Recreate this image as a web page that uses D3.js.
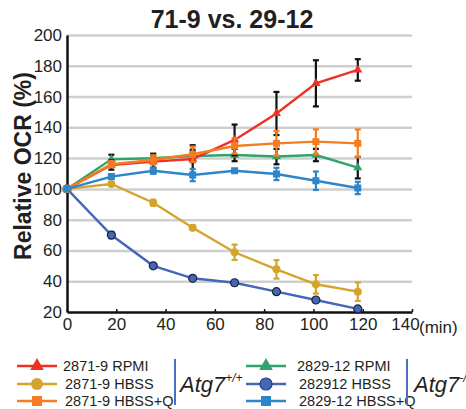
<!DOCTYPE html>
<html>
  <head>
    <meta charset="utf-8">
    <title>71-9 vs. 29-12</title>
    <script src="https://cdn.jsdelivr.net/npm/d3@7"></script>
    <style>
      body { margin: 0; background: #fff; }
      svg { font-family: Arial, "Liberation Sans", sans-serif; }
      text { fill: #231f20; }
    </style>
  </head>
  <body>
    <svg id="chart" width="466" height="409"></svg>

    <script>
      // data
      times = [0, 18, 35, 51, 68, 85, 101, 118];
      xTicks = [0, 20, 40, 60, 80, 100, 120, 140];
      yTicks = [20, 40, 60, 80, 100, 120, 140, 160, 180, 200];

      rpmi71 = [100, 115.5, 117.7, 119.4, 131.8, 149, 168.6, 177.3];
      rpmi71Err = [0, 3, 4, 9, 10, 14, 15, 7];
      hbss71 = [100, 103.2, 91, 74.8, 58.8, 47.7, 38, 33.2];
      hbss71Err = [0, 1, 2, 1.5, 5, 6, 6, 6];
      hbssQ71 = [100, 116, 118.8, 122.5, 127.9, 129.6, 130.7, 129.6];
      hbssQ71Err = [0, 2, 3, 5, 5, 8, 8, 9];
      rpmi29 = [100, 119.2, 119.9, 121.4, 122, 121, 122, 113.8];
      rpmi29Err = [0, 3, 3, 4, 4, 5, 4, 7];
      hbss29 = [100, 70, 50, 41.9, 39, 33.2, 27.8, 22];
      hbss29Err = [0, 2, 1, 1, 1, 1, 1, 1];
      hbssQ29 = [100, 108, 111.8, 109, 111.8, 109.7, 105.3, 100.6];
      hbssQ29Err = [0, 1.5, 2, 4, 1, 4, 6, 4];

      // draw order, bottom first
      series = [
        { name: "282912 HBSS", values: hbss29, err: hbss29Err, color: "#4467b7", errColor: "#111", shape: "circle" },
        { name: "2871-9 HBSS", values: hbss71, err: hbss71Err, color: "#d4a42c", errColor: "#d4a42c", shape: "circle" },
        { name: "2829-12 RPMI", values: rpmi29, err: rpmi29Err, color: "#2fa36b", errColor: "#111", shape: "triangle" },
        { name: "2871-9 RPMI", values: rpmi71, err: rpmi71Err, color: "#ef3124", errColor: "#111", shape: "triangle" },
        { name: "2871-9 HBSS+Q", values: hbssQ71, err: hbssQ71Err, color: "#f47d22", errColor: "#f47d22", shape: "square" },
        { name: "2829-12 HBSS+Q", values: hbssQ29, err: hbssQ29Err, color: "#2e86c9", errColor: "#2e86c9", shape: "square" }
      ];

      svg = d3.select("#chart");

      x = d3.scaleLinear().domain([0, 140]).range([67, 412]);
      y = d3.scaleLinear().domain([20, 200]).range([312, 35]);

      // gridlines
      svg.append("g")
        .attr("transform", "translate(67,0)")
        .call(d3.axisLeft(y).tickValues(yTicks.slice(1)).tickSize(-345).tickFormat(""))
        .call(function(g) {
          g.select(".domain").remove();
          g.selectAll("line").attr("stroke", "#cfcfcf").attr("stroke-width", 2.5);
        });

      // y axis
      svg.append("g")
        .attr("transform", "translate(67,0)")
        .call(d3.axisLeft(y).tickValues(yTicks).tickSize(0).tickPadding(5))
        .call(function(g) {
          g.select(".domain").attr("stroke", "#111").attr("stroke-width", 2.5);
          g.selectAll("text").attr("font-size", 17).attr("font-family", "Arial, 'Liberation Sans', sans-serif").attr("fill", "#231f20");
        });

      // x axis
      svg.append("g")
        .attr("transform", "translate(0,312)")
        .call(d3.axisBottom(x).tickValues(xTicks).tickSizeInner(-3).tickSizeOuter(0).tickPadding(6))
        .call(function(g) {
          g.select(".domain").attr("stroke", "#111").attr("stroke-width", 2.5);
          g.selectAll("line").attr("stroke", "#111").attr("stroke-width", 1.5);
          g.selectAll("text").attr("font-size", 17).attr("font-family", "Arial, 'Liberation Sans', sans-serif").attr("fill", "#231f20");
          g.selectAll(".tick").filter(function(d) { return d == 140; })
            .select("text").attr("dx", -7);
        });

      svg.append("text")
        .attr("x", x(140) + 7)
        .attr("y", 333)
        .attr("font-size", 17)
        .text("(min)");

      // title and y label
      svg.append("text")
        .attr("x", 232)
        .attr("y", 28)
        .attr("text-anchor", "middle")
        .attr("font-size", 25)
        .attr("font-weight", "bold")
        .text("71-9 vs. 29-12");

      svg.append("text")
        .attr("transform", "translate(31,166) rotate(-90)")
        .attr("text-anchor", "middle")
        .attr("font-size", 23)
        .attr("font-weight", "bold")
        .text("Relative OCR (%)");

      line = d3.line()
        .x(function(d, i) { return x(times[i]); })
        .y(function(d) { return y(d); });

      function marker(sel, shape, color, size, stroke) {
        if (shape == "circle") {
          sel.append("circle").attr("r", size / 2).attr("fill", color)
            .attr("stroke", stroke || "none").attr("stroke-width", 1.2);
        } else {
          sel.append("path")
            .attr("d", d3.symbol(shape == "square" ? d3.symbolSquare : d3.symbolTriangle, size * size)())
            .attr("fill", color);
        }
      }

      plot = svg.append("g");
      series.forEach(function(s) {
        g = plot.append("g");
        // error bars
        s.values.forEach(function(v, i) {
          if (!s.err[i]) return;
          eg = g.append("g").attr("stroke", s.errColor).attr("stroke-width", 2.2);
          eg.append("line").attr("x1", x(times[i])).attr("x2", x(times[i]))
            .attr("y1", y(v - s.err[i])).attr("y2", y(v + s.err[i]));
          [v - s.err[i], v + s.err[i]].forEach(function(e) {
            eg.append("line").attr("x1", x(times[i]) - 3).attr("x2", x(times[i]) + 3)
              .attr("y1", y(e)).attr("y2", y(e));
          });
        });
        g.append("path")
          .attr("d", line(s.values))
          .attr("fill", "none")
          .attr("stroke", s.color)
          .attr("stroke-width", 2.4);
        s.values.forEach(function(v, i) {
          m = g.append("g").attr("transform", "translate(" + x(times[i]) + "," + y(v) + ")");
          size = s.shape == "triangle" ? 6 : (s.shape == "square" ? 7 : 8);
          marker(m, s.shape, s.color, size, s.name == "282912 HBSS" ? "#1b2340" : null);
        });
      });

      // legend
      legendLeft = [series[3], series[1], series[4]];
      legendRight = [series[2], series[0], series[5]];
      rows = [366, 384, 401];

      function drawLegend(items, x0, textX) {
        items.forEach(function(s, i) {
          lg = svg.append("g");
          lg.append("line")
            .attr("x1", x0).attr("x2", x0 + 40)
            .attr("y1", rows[i]).attr("y2", rows[i])
            .attr("stroke", s.color).attr("stroke-width", 2.5);
          m = lg.append("g").attr("transform", "translate(" + (x0 + 20) + "," + rows[i] + ")");
          size = s.shape == "triangle" ? 9 : (s.shape == "square" ? 10 : 12);
          marker(m, s.shape, s.color, size, s.name == "282912 HBSS" ? "#2b3f8a" : null);
          lg.append("text")
            .attr("x", textX + (i ? 2 : 0))
            .attr("y", rows[i] + 5)
            .attr("font-size", 14.5)
            .text(s.name);
        });
      }
      drawLegend(legendLeft, 17, 63);
      drawLegend(legendRight, 246, 297);

      [[175, 180, "+/+"], [407, 414, "-/-"]].forEach(function(d) {
        svg.append("line")
          .attr("x1", d[0]).attr("x2", d[0])
          .attr("y1", 359).attr("y2", 405)
          .attr("stroke", "#4a6fc0").attr("stroke-width", 2);
        t = svg.append("text")
          .attr("x", d[1])
          .attr("y", 392)
          .attr("font-size", 22)
          .attr("font-style", "italic")
          .text("Atg7");
        t.append("tspan")
          .attr("font-size", 12)
          .attr("dy", -10)
          .text(d[2]);
      });
    </script>
  </body>
</html>
